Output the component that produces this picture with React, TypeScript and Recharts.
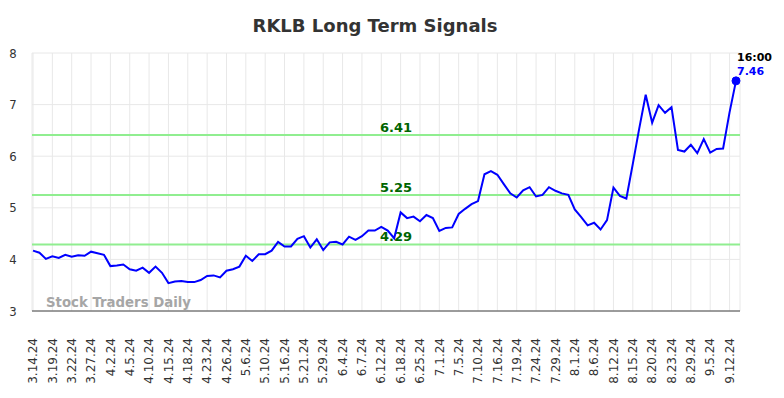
import React from 'react';
import { LineChart, Line, XAxis, YAxis, CartesianGrid, ReferenceLine } from 'recharts';

const dates = [
  '3.14.24','3.15.24','3.18.24','3.19.24','3.20.24','3.21.24','3.22.24','3.25.24','3.26.24','3.27.24',
  '3.28.24','4.1.24','4.2.24','4.3.24','4.4.24','4.5.24','4.8.24','4.9.24','4.10.24','4.11.24',
  '4.12.24','4.15.24','4.16.24','4.17.24','4.18.24','4.19.24','4.22.24','4.23.24','4.24.24','4.25.24',
  '4.26.24','4.29.24','5.1.24','5.6.24','5.7.24','5.8.24','5.10.24','5.13.24','5.14.24','5.16.24',
  '5.17.24','5.20.24','5.21.24','5.22.24','5.24.24','5.29.24','5.30.24','6.3.24','6.4.24','6.5.24',
  '6.6.24','6.7.24','6.10.24','6.11.24','6.12.24','6.13.24','6.17.24','6.18.24','6.20.24','6.24.24',
  '6.25.24','6.26.24','6.28.24','7.1.24','7.2.24','7.3.24','7.5.24','7.8.24','7.9.24','7.10.24',
  '7.11.24','7.15.24','7.16.24','7.17.24','7.18.24','7.19.24','7.22.24','7.23.24','7.24.24','7.25.24',
  '7.26.24','7.29.24','7.30.24','7.31.24','8.1.24','8.2.24','8.5.24','8.6.24','8.7.24','8.9.24',
  '8.12.24','8.13.24','8.14.24','8.15.24','8.16.24','8.19.24','8.20.24','8.21.24','8.22.24','8.23.24',
  '8.26.24','8.28.24','8.29.24','8.30.24','9.3.24','9.5.24','9.9.24','9.11.24','9.12.24','9.13.24',
];

const prices = [
  4.17, 4.13, 4.01, 4.06, 4.03, 4.09, 4.05, 4.08, 4.07, 4.15,
  4.12, 4.09, 3.87, 3.88, 3.90, 3.81, 3.78, 3.84, 3.74, 3.86,
  3.74, 3.54, 3.57, 3.58, 3.56, 3.56, 3.60, 3.68, 3.69, 3.65,
  3.78, 3.81, 3.86, 4.07, 3.97, 4.10, 4.10, 4.17, 4.34, 4.25,
  4.25, 4.40, 4.45, 4.23, 4.39, 4.18, 4.33, 4.34, 4.29, 4.44,
  4.38, 4.45, 4.56, 4.56, 4.63, 4.56, 4.41, 4.91, 4.80, 4.83,
  4.74, 4.86, 4.80, 4.55, 4.61, 4.62, 4.88, 4.98, 5.07, 5.13,
  5.65, 5.71, 5.64, 5.46, 5.28, 5.20, 5.34, 5.40, 5.22, 5.25,
  5.40, 5.33, 5.28, 5.25, 4.97, 4.82, 4.66, 4.71, 4.58, 4.76,
  5.39, 5.23, 5.18, 5.85, 6.54, 7.19, 6.65, 6.99, 6.84, 6.95,
  6.12, 6.09, 6.22, 6.06, 6.33, 6.07, 6.14, 6.15, 6.85, 7.46,
];

const yTicks = [3, 4, 5, 6, 7, 8];
const signalLevels = [6.41, 5.25, 4.29];
const lastTimeLabel = '16:00';
const title = 'RKLB Long Term Signals';
const watermark = 'Stock Traders Daily';

const data = dates.map((d, i) => ({ date: d, price: prices[i] }));

const XTick = (props: any) => {
  const { x, y, payload } = props;
  return (
    <g transform={`translate(${x},${y + 19})`}>
      <text x={0} y={0} dy="0.35em" textAnchor="end" transform="rotate(-90)"
        fontFamily="'DejaVu Sans', sans-serif" fontSize={12} fill="#333">
        {payload.value}
      </text>
    </g>
  );
};

const YTick = (props: any) => {
  const { y, payload } = props;
  return (
    <text x={13} y={y} dy="0.35em" textAnchor="middle"
      fontFamily="'DejaVu Sans Condensed', 'DejaVu Sans', sans-serif" fontSize={13} fill="#333">
      {payload.value}
    </text>
  );
};

const LastDot = (props: any) => {
  const { cx, cy, index } = props;
  if (index !== prices.length - 1) return <g key={`d${index}`} />;
  return (
    <g key={`d${index}`}>
      <circle cx={cx} cy={cy} r={4} fill="#0000ff" stroke="#0000ff" />
      <text x={cx + 1} y={cy - 20} fontFamily="'DejaVu Sans', sans-serif" fontWeight="bold" fontSize={11} fill="#000">
        {lastTimeLabel}
      </text>
      <text x={cx + 1} y={cy - 6} fontFamily="'DejaVu Sans', sans-serif" fontWeight="bold" fontSize={11} fill="#0000ff">
        {prices[prices.length - 1].toFixed(2)}
      </text>
    </g>
  );
};

const makeRefLabel = (value: number) => (props: any) => {
  const vb = props.viewBox || {};
  return (
    <text x={vb.x + vb.width / 2 + 10} y={vb.y - 3} textAnchor="middle"
      fontFamily="'DejaVu Sans', sans-serif" fontWeight="bold" fontSize={13} fill="#006400">
      {value.toFixed(2)}
    </text>
  );
};

export default function App() {
  return (
    <div style={{ position: 'absolute', left: 0, top: 0, width: 784, height: 398, background: '#fff' }}>
      <div style={{
        position: 'absolute', left: 0, top: 14, width: 750, textAlign: 'center',
        fontFamily: "'DejaVu Sans', sans-serif",
        fontWeight: 'bold', fontSize: 18, color: '#333', lineHeight: '24px',
      }}>{title}</div>
      <LineChart width={784} height={398} data={data} margin={{ top: 53, right: 44, bottom: 0, left: 0 }}>
        <CartesianGrid stroke="#e8e8e8" strokeWidth={1} />
        <XAxis dataKey="date" interval={2} tick={<XTick />} tickLine={false}
          axisLine={{ stroke: '#444', strokeWidth: 1 }} height={87} padding={{ left: 1, right: 4 }} />
        <YAxis domain={[3, 8]} ticks={yTicks} tick={<YTick />} tickLine={false} axisLine={false} width={32} />
        {signalLevels.map((lv) => (
          <ReferenceLine key={lv} y={lv} stroke="#90ee90" strokeWidth={2} label={makeRefLabel(lv)} />
        ))}
        <Line type="linear" dataKey="price" stroke="#0000ff" strokeWidth={2} dot={LastDot}
          activeDot={false} isAnimationActive={false} />
      </LineChart>
      <div style={{
        position: 'absolute', left: 46, top: 295, fontFamily: "'DejaVu Sans', sans-serif",
        fontWeight: 'bold', fontSize: 13.3, color: '#a6a6a6', lineHeight: '16px',
      }}>{watermark}</div>
    </div>
  );
}
